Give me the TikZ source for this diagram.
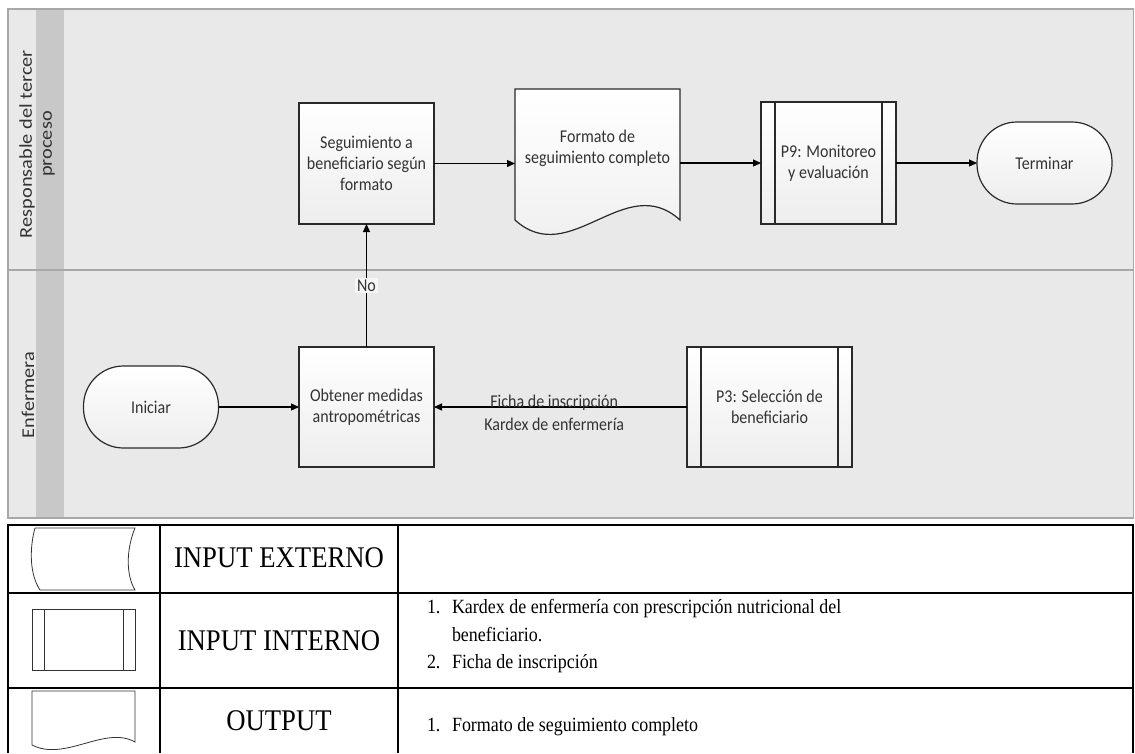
\documentclass[tikz,border=0pt]{standalone}
\usepackage{fontspec}
\usetikzlibrary{arrows.meta}
\newfontfamily\boxfont{Carlito}[FakeStretch=0.89]
\newfontfamily\lanefont{Carlito}[FakeStretch=1.13]
\newfontfamily\tabfont{Liberation Serif}[FakeStretch=0.89]
\definecolor{lanefill}{HTML}{E9E9E9}
\definecolor{stripfill}{HTML}{C8C8C8}
\definecolor{laneline}{HTML}{A8A8A8}
\definecolor{ink}{HTML}{333333}
\definecolor{boxline}{HTML}{2A2A2A}

\begin{document}
\begin{tikzpicture}[x=1pt,y=-1pt,
  every node/.style={inner sep=0pt, outer sep=0pt},
  boxtext/.style={font=\boxfont\fontsize{18}{21}\selectfont, text=ink, align=center},
  shaded/.style={top color=white, bottom color=black!7},
  proc/.style={boxtext, shaded, draw=boxline, line width=1.2pt,
    minimum width=135pt, minimum height=121pt},
  pproc/.style={proc, path picture={
    \draw[boxline, line width=1.2pt]
      ([xshift=14pt]path picture bounding box.north west) --
      ([xshift=14pt]path picture bounding box.south west)
      ([xshift=-14pt]path picture bounding box.north east) --
      ([xshift=-14pt]path picture bounding box.south east);}},
  term/.style={boxtext, shaded, draw=boxline, line width=1.2pt,
    rounded corners=40pt, minimum width=135pt, minimum height=82pt},
  arr/.style={draw=black, line width=1.2pt, -{Triangle[length=8pt,width=7pt]}},
  lanelbl/.style={font=\lanefont\fontsize{18}{20}\selectfont, text=ink, align=center, rotate=90},
  tabline/.style={draw=black, line width=2pt},
  legend/.style={draw=black!80, line width=0.8pt},
  tabbig/.style={font=\tabfont\fontsize{30}{32}\selectfont},
  tabitem/.style={font=\tabfont\fontsize{20.2}{24}\selectfont, anchor=base west},
]
\useasboundingbox (0,0) rectangle (1135,753);

% swimlanes
\fill[lanefill] (8,9) rectangle (1133.5,518);
\fill[stripfill] (36,9) rectangle (64,518);
\draw[laneline, line width=1.2pt] (8,9) rectangle (1133.5,518);
\draw[laneline, line width=1.2pt] (8,270) -- (1133.5,270);
\node[lanelbl] (lane1) at (37,144) {Responsable del tercer\\proceso};
\node[lanelbl] (lane2) at (28,395) {Enfermera};

% process shapes
\node[proc] (seg) at (366.5,163.5) {Seguimiento a\\beneficiario según\\formato};
\node[proc, minimum height=120pt] (obt) at (366.5,407) {Obtener medidas\\antropométricas};
\node[term] (ini) at (151,407) {Iniciar};
\node[term] (ter) at (1044.5,163) {Terminar};
\node[pproc, minimum height=122pt] (p9) at (828.5,163) {P9: Monitoreo\\y evaluación};
\node[pproc, minimum width=165pt, minimum height=120pt] (p3) at (769.5,407) {P3: Selección de\\beneficiario};

% document shape: frame node, wavy outline, then its text
\node[minimum width=165pt, minimum height=118pt] (fmt) at (597.5,148) {};
\path[shaded, draw=boxline, line width=1.2pt]
  (fmt.north west) -- (fmt.north east) -- ([yshift=-13pt]fmt.south east)
  .. controls ([xshift=-55pt,yshift=37pt]fmt.south east)
  and ([xshift=55pt,yshift=-63pt]fmt.south west) ..
  ([yshift=-13pt]fmt.south west) -- cycle;
\node[boxtext] (fmttext) at (fmt.center) {Formato de\\seguimiento completo};

% connectors
\draw[arr] (ini) -- (obt);
\draw[arr] (obt) -- node[boxtext, fill=white!60!lanefill, inner sep=2pt] (no) {No} (seg);
\draw[arr] (seg) -- (seg.east -| fmt.west);
\draw[arr] (fmt.east |- p9.west) -- (p9);
\draw[arr] (p9) -- (ter);
\draw[arr] (p3) --
  node[boxtext, pos=0.525, anchor=base] (lblf) {Ficha de inscripción}
  node[boxtext, pos=0.525, anchor=base, yshift=-23pt] (lblk) {Kardex de enfermería}
  (obt);

% legend table
\draw[tabline] (7,525) -- (1133,525) (7,593) -- (1133,593) (7,688) -- (1133,688);
\draw[tabline] (8,524) -- (8,753) (160,524) -- (160,753) (398,524) -- (398,753) (1133,524) -- (1133,753);

\draw[legend] (35,528) -- (135,528)
  .. controls (126,550) and (126,575) .. (135,590) -- (40,590)
  .. controls (30,575) and (29,550) .. (35,528);
\draw[legend] (32,609) rectangle (135,670) (44,609) -- (44,670) (123,609) -- (123,670);
\draw[legend] (32,745) -- (32,691) -- (135,691) -- (135,742)
  .. controls (105,725) and (65,762) .. (32,745);

\node[tabbig] (t1) at (279,558) {INPUT EXTERNO};
\node[tabbig] (t2) at (279,641) {INPUT INTERNO};
\node[tabbig] (t3) at (279,721) {OUTPUT};

\node[tabitem] (n1) at (427,613) {1.};
\node[tabitem] (i1) at (452,613) {Kardex de enfermería con prescripción nutricional del};
\node[tabitem] (i1b) at (452,641) {beneficiario.};
\node[tabitem] (n2) at (427,668) {2.};
\node[tabitem] (i2) at (452,668) {Ficha de inscripción};
\node[tabitem] (n3) at (427,731) {1.};
\node[tabitem] (i3) at (452,731) {Formato de seguimiento completo};
\end{tikzpicture}
\end{document}
